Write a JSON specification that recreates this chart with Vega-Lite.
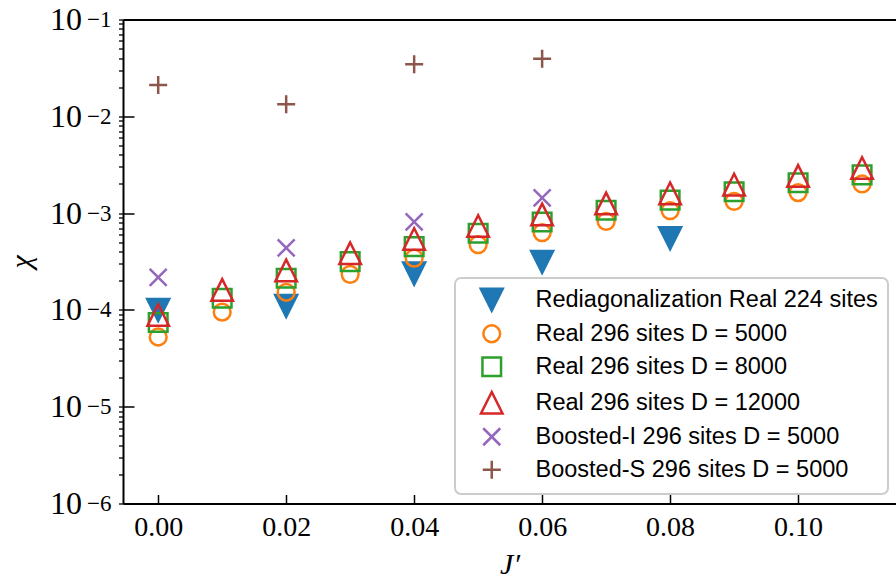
{
  "$schema": "https://vega.github.io/schema/vega-lite/v6.json",
  "width": 773,
  "height": 484,
  "autosize": {"type": "none"},
  "padding": {"left": 123, "top": 19.5, "right": 0, "bottom": 78.5},
  "background": "white",
  "config": {
    "view": {"stroke": null},
    "axis": {"grid": false},
    "legend": {"strokeWidth": 2}
  },
  "data": {
    "values": [
      {"series": "Rediagonalization Real 224 sites", "x": 0.00, "y": 0.000100},
      {"series": "Rediagonalization Real 224 sites", "x": 0.02, "y": 0.000110},
      {"series": "Rediagonalization Real 224 sites", "x": 0.04, "y": 0.000237},
      {"series": "Rediagonalization Real 224 sites", "x": 0.06, "y": 0.000313},
      {"series": "Rediagonalization Real 224 sites", "x": 0.08, "y": 0.000550},
      {"series": "Real 296 sites D = 5000", "x": 0.00, "y": 0.0000525},
      {"series": "Real 296 sites D = 5000", "x": 0.01, "y": 0.0000950},
      {"series": "Real 296 sites D = 5000", "x": 0.02, "y": 0.000152},
      {"series": "Real 296 sites D = 5000", "x": 0.03, "y": 0.000233},
      {"series": "Real 296 sites D = 5000", "x": 0.04, "y": 0.000343},
      {"series": "Real 296 sites D = 5000", "x": 0.05, "y": 0.000472},
      {"series": "Real 296 sites D = 5000", "x": 0.06, "y": 0.000628},
      {"series": "Real 296 sites D = 5000", "x": 0.07, "y": 0.000820},
      {"series": "Real 296 sites D = 5000", "x": 0.08, "y": 0.00106},
      {"series": "Real 296 sites D = 5000", "x": 0.09, "y": 0.00132},
      {"series": "Real 296 sites D = 5000", "x": 0.10, "y": 0.00163},
      {"series": "Real 296 sites D = 5000", "x": 0.11, "y": 0.00200},
      {"series": "Real 296 sites D = 8000", "x": 0.00, "y": 0.0000740},
      {"series": "Real 296 sites D = 8000", "x": 0.01, "y": 0.000132},
      {"series": "Real 296 sites D = 8000", "x": 0.02, "y": 0.000212},
      {"series": "Real 296 sites D = 8000", "x": 0.03, "y": 0.000315},
      {"series": "Real 296 sites D = 8000", "x": 0.04, "y": 0.000450},
      {"series": "Real 296 sites D = 8000", "x": 0.05, "y": 0.000620},
      {"series": "Real 296 sites D = 8000", "x": 0.06, "y": 0.000810},
      {"series": "Real 296 sites D = 8000", "x": 0.07, "y": 0.00107},
      {"series": "Real 296 sites D = 8000", "x": 0.08, "y": 0.00136},
      {"series": "Real 296 sites D = 8000", "x": 0.09, "y": 0.00166},
      {"series": "Real 296 sites D = 8000", "x": 0.10, "y": 0.00206},
      {"series": "Real 296 sites D = 8000", "x": 0.11, "y": 0.00248},
      {"series": "Real 296 sites D = 12000", "x": 0.00, "y": 0.0000885},
      {"series": "Real 296 sites D = 12000", "x": 0.01, "y": 0.000161},
      {"series": "Real 296 sites D = 12000", "x": 0.02, "y": 0.000256},
      {"series": "Real 296 sites D = 12000", "x": 0.03, "y": 0.000385},
      {"series": "Real 296 sites D = 12000", "x": 0.04, "y": 0.000540},
      {"series": "Real 296 sites D = 12000", "x": 0.05, "y": 0.000736},
      {"series": "Real 296 sites D = 12000", "x": 0.06, "y": 0.000970},
      {"series": "Real 296 sites D = 12000", "x": 0.07, "y": 0.00126},
      {"series": "Real 296 sites D = 12000", "x": 0.08, "y": 0.00160},
      {"series": "Real 296 sites D = 12000", "x": 0.09, "y": 0.00197},
      {"series": "Real 296 sites D = 12000", "x": 0.10, "y": 0.00242},
      {"series": "Real 296 sites D = 12000", "x": 0.11, "y": 0.00292},
      {"series": "Boosted-I 296 sites D = 5000", "x": 0.00, "y": 0.000217},
      {"series": "Boosted-I 296 sites D = 5000", "x": 0.02, "y": 0.000437},
      {"series": "Boosted-I 296 sites D = 5000", "x": 0.04, "y": 0.000810},
      {"series": "Boosted-I 296 sites D = 5000", "x": 0.06, "y": 0.00144},
      {"series": "Boosted-S 296 sites D = 5000", "x": 0.00, "y": 0.0210},
      {"series": "Boosted-S 296 sites D = 5000", "x": 0.02, "y": 0.0133},
      {"series": "Boosted-S 296 sites D = 5000", "x": 0.04, "y": 0.0344},
      {"series": "Boosted-S 296 sites D = 5000", "x": 0.06, "y": 0.0394}
    ]
  },
  "layer": [
    {
      "mark": {"type": "point", "opacity": 0},
      "encoding": {
        "x": {
          "field": "x", "type": "quantitative",
          "scale": {"domain": [-0.0055, 0.1153], "nice": false, "zero": false},
          "axis": {"orient": "top", "labels": false, "ticks": false, "domainColor": "black", "domainWidth": 2, "title": null}
        },
        "y": {
          "field": "y", "type": "quantitative",
          "scale": {"type": "log", "domain": [0.000001, 0.1], "nice": false},
          "axis": {
            "orient": "left",
            "values": [0.000001,0.000002,0.000003,0.000004,0.000005,0.000006,0.000007,0.000008,0.000009,
                       0.00001,0.00002,0.00003,0.00004,0.00005,0.00006,0.00007,0.00008,0.00009,
                       0.0001,0.0002,0.0003,0.0004,0.0005,0.0006,0.0007,0.0008,0.0009,
                       0.001,0.002,0.003,0.004,0.005,0.006,0.007,0.008,0.009,
                       0.01,0.02,0.03,0.04,0.05,0.06,0.07,0.08,0.09,0.1],
            "labelExpr": "abs(log(datum.value)/LN10 - round(log(datum.value)/LN10)) < 0.000001 ? '10' : ''",
            "labelFont": "Liberation Serif", "labelFontSize": 32, "labelColor": "black",
            "labelPadding": 37, "labelDy": 3, "labelOverlap": false, "labelBound": false,
            "labelFlush": false,
            "tickSize": 4.5, "tickWidth": 1.3, "tickColor": "black",
            "domain": false, "title": null
          }
        }
      }
    },
    {
      "mark": {"type": "point", "size": 400, "strokeWidth": 2.5, "opacity": 1},
      "encoding": {
        "x": {
          "field": "x", "type": "quantitative",
          "axis": {
            "orient": "bottom",
            "values": [0, 0.02, 0.04, 0.06, 0.08, 0.10],
            "format": ".2f",
            "labelFont": "Liberation Serif", "labelFontSize": 28, "labelColor": "black",
            "labelPadding": 19,
            "tickSize": -9, "tickWidth": 1.5, "tickColor": "black",
            "domainColor": "black", "domainWidth": 2,
            "title": "J′", "titleFont": "Liberation Serif", "titleFontStyle": "italic",
            "titleFontWeight": "normal", "titleFontSize": 30, "titleColor": "black", "titlePadding": 8
          }
        },
        "y": {
          "field": "y", "type": "quantitative",
          "axis": {
            "orient": "left",
            "values": [0.000001, 0.00001, 0.0001, 0.001, 0.01, 0.1],
            "labelExpr": "['−1','−2','−3','−4','−5','−6'][round(-log(datum.value)/LN10) - 1]",
            "labelFont": "Liberation Serif", "labelFontSize": 23, "labelColor": "black",
            "labelPadding": 23, "labelDy": -10, "labelFlush": false, "labelOverlap": false,
            "tickSize": -11, "tickWidth": 1.5, "tickColor": "black",
            "domainColor": "black", "domainWidth": 2,
            "title": "χ", "titleFont": "Liberation Serif", "titleFontStyle": "italic",
            "titleFontWeight": "normal", "titleFontSize": 30, "titleColor": "black", "titlePadding": 50
          }
        },
        "stroke": {
          "field": "series", "type": "nominal",
          "scale": {
            "domain": ["Rediagonalization Real 224 sites", "Real 296 sites D = 5000", "Real 296 sites D = 8000", "Real 296 sites D = 12000", "Boosted-I 296 sites D = 5000", "Boosted-S 296 sites D = 5000"],
            "range": ["#1f77b4", "#ff7f0e", "#2ca02c", "#d62728", "#9467bd", "#8c564b"]
          },
          "legend": {
            "title": null, "orient": "none", "legendX": 332, "legendY": 258.5,
            "padding": 10, "rowPadding": 4, "labelOffset": 32, "symbolOffset": 15,
            "labelLimit": 0,
            "symbolSize": 400, "symbolStrokeWidth": 2.5,
            "labelFont": "Liberation Sans", "labelFontSize": 23.5, "labelColor": "black",
            "strokeColor": "#cccccc", "fillColor": "white", "cornerRadius": 6
          }
        },
        "fill": {
          "field": "series", "type": "nominal",
          "scale": {
            "domain": ["Rediagonalization Real 224 sites", "Real 296 sites D = 5000", "Real 296 sites D = 8000", "Real 296 sites D = 12000", "Boosted-I 296 sites D = 5000", "Boosted-S 296 sites D = 5000"],
            "range": ["#1f77b4", "transparent", "transparent", "transparent", "transparent", "transparent"]
          }
        },
        "shape": {
          "field": "series", "type": "nominal",
          "scale": {
            "domain": ["Rediagonalization Real 224 sites", "Real 296 sites D = 5000", "Real 296 sites D = 8000", "Real 296 sites D = 12000", "Boosted-I 296 sites D = 5000", "Boosted-S 296 sites D = 5000"],
            "range": [
              "M-1.1,-1.1L1.1,-1.1L0,1.1Z",
              "M0.84,0A0.84,0.84,0,1,1,-0.84,0A0.84,0.84,0,1,1,0.84,0Z",
              "M-0.93,-0.93L0.93,-0.93L0.93,0.93L-0.93,0.93Z",
              "M0,-1.08L-1.08,1.08L1.08,1.08Z",
              "M-0.85,-0.85L0.85,0.85M-0.85,0.85L0.85,-0.85",
              "M-0.9,0L0.9,0M0,-0.9L0,0.9"
            ]
          }
        }
      }
    }
  ],
  "resolve": {"axis": {"x": "independent", "y": "independent"}}
}
